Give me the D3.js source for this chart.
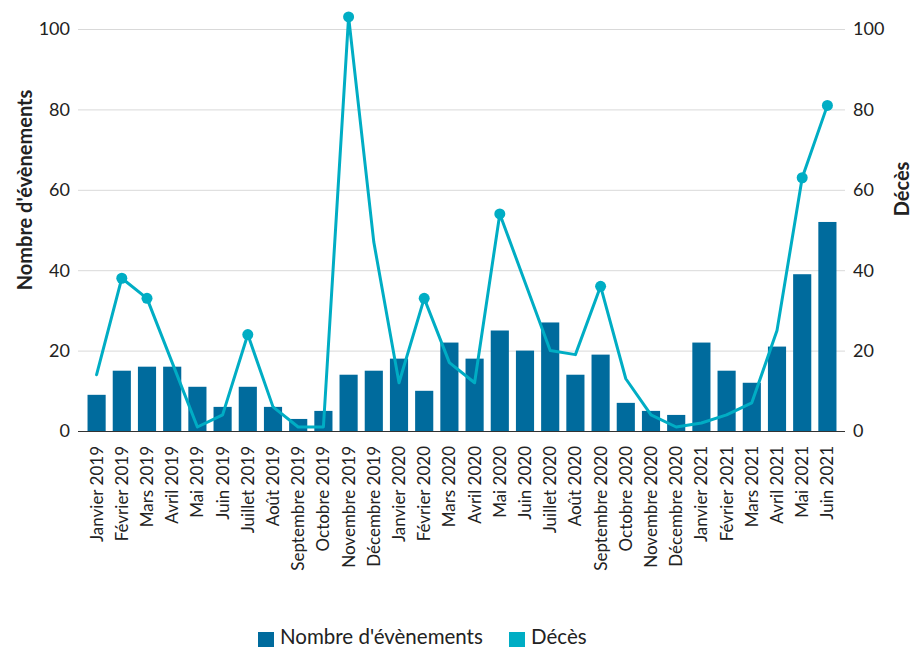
<!DOCTYPE html>
<html><head><meta charset="utf-8">
<script src="https://cdn.jsdelivr.net/npm/d3@7"></script>
<style>
html,body{margin:0;padding:0;background:#fff;}
svg{display:block;font-family:Lato,"Noto Sans",sans-serif;}
</style></head>
<body><svg id="chart" width="912" height="647"></svg>
<script>
const months = ["Janvier 2019","Février 2019","Mars 2019","Avril 2019","Mai 2019","Juin 2019","Juillet 2019","Août 2019","Septembre 2019","Octobre 2019","Novembre 2019","Décembre 2019","Janvier 2020","Février 2020","Mars 2020","Avril 2020","Mai 2020","Juin 2020","Juillet 2020","Août 2020","Septembre 2020","Octobre 2020","Novembre 2020","Décembre 2020","Janvier 2021","Février 2021","Mars 2021","Avril 2021","Mai 2021","Juin 2021"];
const evenements = [9,15,16,16,11,6,11,6,3,5,14,15,18,10,22,18,25,20,27,14,19,7,5,4,22,15,12,21,39,52];
const deces = [14,38,33,17,1,4,24,6,1,1,103,47,12,33,17,12,54,37,20,19,36,13,4,1,2,4,7,25,63,81];
const marked = [0,1,1,0,0,0,1,0,0,0,1,0,0,1,0,0,1,0,0,0,1,0,0,0,0,0,0,0,1,1];
const yTicks = [0,20,40,60,80,100];
const seriesNames = ["Nombre d'évènements","Décès"];
const colors = ["#006b9d","#00adc4"];

const svg = d3.select("#chart");
const x = d3.scaleBand().domain(months).range([84,840]).paddingInner(0.28).paddingOuter(0.14);
const yL = d3.scaleLinear().domain([0,100]).range([431,29]);
const yR = d3.scaleLinear().domain([0,100]).range([431,29]);

// gridlines
svg.append("g").selectAll("line").data(yTicks.filter(d=>d>0)).join("line")
  .attr("x1",78).attr("x2",845).attr("y1",d=>yL(d)+0.5).attr("y2",d=>yL(d)+0.5)
  .attr("stroke","#d9d9d9").attr("stroke-width",1);

// left axis labels
svg.append("g").selectAll("text").data(yTicks).join("text")
  .attr("x",70).attr("y",d=>yL(d)).attr("dy","0.35em").attr("text-anchor","end")
  .attr("font-size",18).attr("fill","#222").text(d=>d);
// right axis labels
svg.append("g").selectAll("text").data(yTicks).join("text")
  .attr("x",853).attr("y",d=>yR(d)).attr("dy","0.35em").attr("text-anchor","start")
  .attr("font-size",18).attr("fill","#222").text(d=>d);

// bars
svg.append("g").selectAll("rect").data(months).join("rect")
  .attr("x",d=>x(d)).attr("width",x.bandwidth())
  .attr("y",(d,i)=>yL(evenements[i])).attr("height",(d,i)=>yL(0)-yL(evenements[i]))
  .attr("fill",colors[0]);

// baseline
svg.append("line").attr("x1",78).attr("x2",845).attr("y1",yL(0)+0.5).attr("y2",yL(0)+0.5)
  .attr("stroke","#333").attr("stroke-width",1);

// line
const line = d3.line().x((d,i)=>x(months[i])+x.bandwidth()/2).y(d=>yR(d));
svg.append("path").datum(deces).attr("d",line).attr("fill","none")
  .attr("stroke",colors[1]).attr("stroke-width",3).attr("stroke-linejoin","round").attr("stroke-linecap","round");
svg.append("g").selectAll("circle").data(deces.map((v,i)=>({v,i})).filter(d=>marked[d.i])).join("circle")
  .attr("cx",d=>x(months[d.i])+x.bandwidth()/2).attr("cy",d=>yR(d.v)).attr("r",5.5).attr("fill",colors[1]);

// x labels
svg.append("g").selectAll("text").data(months).join("text")
  .attr("transform",d=>`translate(${x(d)+x.bandwidth()/2+6},446) rotate(-90)`)
  .attr("text-anchor","end").attr("font-size",17).attr("fill","#222").text(d=>d);

// axis titles
svg.append("text").attr("transform","translate(32,190) rotate(-90)").attr("text-anchor","middle")
  .attr("font-size",20).attr("font-weight","bold").attr("fill","#222").text(seriesNames[0]);
svg.append("text").attr("transform","translate(909,189) rotate(-90)").attr("text-anchor","middle")
  .attr("font-size",20).attr("font-weight","bold").attr("fill","#222").text(seriesNames[1]);

// legend
const leg = svg.append("g");
const legX = [258,509];
seriesNames.forEach((n,i)=>{
  leg.append("rect").attr("x",legX[i]).attr("y",632).attr("width",16).attr("height",16).attr("fill",colors[i]);
  leg.append("text").attr("x",legX[i]+22).attr("y",644).attr("font-size",20.5).attr("fill","#222").text(n);
});
</script></body></html>
